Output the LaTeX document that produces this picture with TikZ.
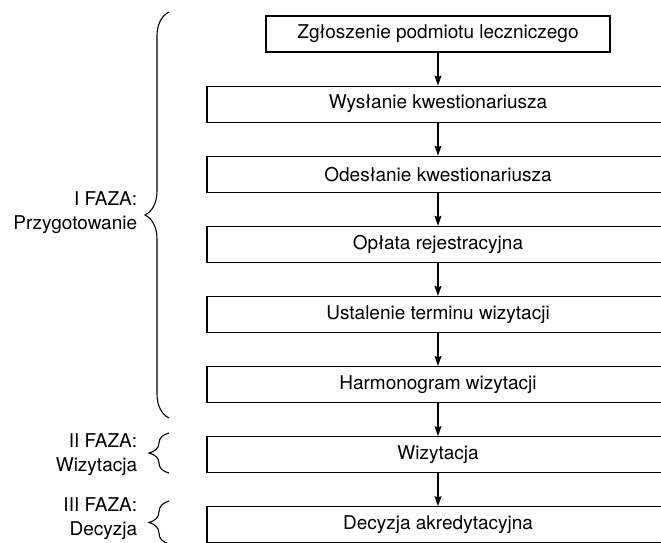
\documentclass[tikz,border=0pt]{standalone}
\usepackage{fontspec}
\setmainfont{TeX Gyre Heros}
\usetikzlibrary{arrows.meta,positioning,decorations.pathreplacing}

\begin{document}
\begin{tikzpicture}[
    x = 1pt,
    y = 1pt,
    line width = 1.1pt,
    >={Stealth[length=10pt, width=7pt, inset=1.5pt]},
    node distance = 33pt,
    font = \fontsize{19}{24}\selectfont,
    stage/.style = {
      draw,
      minimum width = 462pt,
      minimum height = 36pt,
      inner sep = 0pt
    },
    phase/.style = {
      align = right,
      anchor = east
    },
    curly/.style = {
      decorate,
      decoration = {brace, amplitude = #1}
    }
  ]
  \useasboundingbox (0,0) rectangle (661,-542);

  % etapy
  \node[stage, minimum width = 344pt] (zgl) at (438,-34) {Zgłoszenie podmiotu leczniczego};
  \node[stage, below = of zgl] (wys) {Wysłanie kwestionariusza};
  \node[stage, below = of wys] (ode) {Odesłanie kwestionariusza};
  \node[stage, below = of ode] (opl) {Opłata rejestracyjna};
  \node[stage, below = of opl] (ust) {Ustalenie terminu wizytacji};
  \node[stage, below = of ust] (har) {Harmonogram wizytacji};
  \node[stage, below = of har] (wiz) {Wizytacja};
  \node[stage, below = of wiz] (dec) {Decyzja akredytacyjna};

  \draw[->] (zgl) -- (wys);
  \draw[->] (wys) -- (ode);
  \draw[->] (ode) -- (opl);
  \draw[->] (opl) -- (ust);
  \draw[->] (ust) -- (har);
  \draw[->] (har) -- (wiz);
  \draw[->] (wiz) -- (dec);

  % fazy
  \draw[curly = 24pt] (169,-418) -- (169,-12);
  \draw[curly = 20pt] (169,-473) -- (169,-433);
  \draw[curly = 20pt] (169,-544) -- (169,-501);

  \node[phase] (f1) at (141,-213) {I FAZA:\\Przygotowanie};
  \node[phase] (f2) at (141,-455) {II FAZA:\\Wizytacja};
  \node[phase] (f3) at (141,-519) {III FAZA:\\Decyzja};
\end{tikzpicture}
\end{document}
